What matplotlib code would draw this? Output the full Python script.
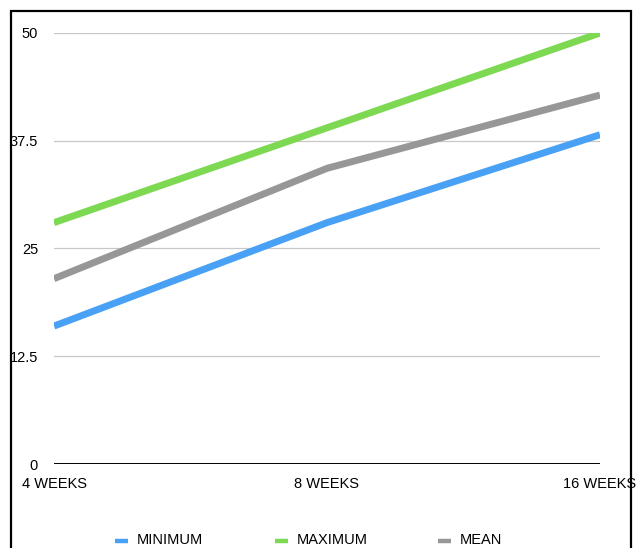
import matplotlib
matplotlib.use("Agg")
import matplotlib.pyplot as plt
from matplotlib.patches import Rectangle
from matplotlib.lines import Line2D

# Data
periods = ["4 WEEKS", "8 WEEKS", "16 WEEKS"]
minimum = [16.0, 28.0, 38.2]
maximum = [28.0, 39.0, 50.0]
mean = [21.5, 34.3, 42.8]
series_names = ["MINIMUM", "MAXIMUM", "MEAN"]
y_ticks = [0, 12.5, 25, 37.5, 50]
y_tick_labels = ["0", "12.5", "25", "37.5", "50"]

plt.rcParams["font.family"] = ["Liberation Sans", "DejaVu Sans"]

W, H = 636, 548
fig = plt.figure(figsize=(W / 100, H / 100), dpi=100)
ax = fig.add_axes([54 / W, (H - 464) / H, (600 - 54) / W, (464 - 33) / H])

x = list(range(len(periods)))
colors = ["#48a1f5", "#7dd852", "#979797"]
for vals, c in zip([minimum, maximum, mean], colors):
    ax.plot(x, vals, color=c, lw=5, solid_capstyle="butt", zorder=3)

ax.set_xlim(0, 2)
ax.set_ylim(0, 50)
for v in y_ticks[1:]:
    ax.axhline(v, color="#c8c8c8", lw=0.9, zorder=1)
ax.axhline(0, color="black", lw=1.4, zorder=2)

for s in ax.spines.values():
    s.set_visible(False)
ax.tick_params(length=0)
ax.set_yticks(y_ticks)
ax.set_yticklabels(y_tick_labels, fontsize=10.5)
ax.tick_params(axis="y", pad=11.5)
ax.set_xticks(x)
ax.set_xticklabels(periods, fontsize=10.5)
ax.tick_params(axis="x", pad=9)

# Legend along the bottom edge
legend_x = [115, 275, 438]
legend_y = (H - 540.5) / H
for name, c, lx in zip(series_names, colors, legend_x):
    fig.add_artist(Line2D([lx / W, (lx + 13) / W], [legend_y, legend_y],
                          transform=fig.transFigure, color=c, lw=3.2,
                          solid_capstyle="butt"))
    fig.text((lx + 22) / W, legend_y, name, fontsize=10.5, va="center",
             ha="left")

# Outer frame
fig.patches.append(Rectangle((11 / W, -0.05), (631 - 11) / W, 1.05 - 11 / H,
                             transform=fig.transFigure, fill=False,
                             edgecolor="black", lw=1.6, zorder=10))

fig.savefig("out.png", dpi=100)
